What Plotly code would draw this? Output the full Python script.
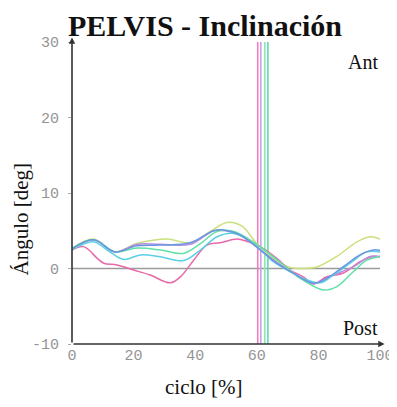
import plotly.graph_objects as go

# cycle % positions and pelvis tilt curves (deg)
x_yellow = [0, 7, 14, 21.1, 30.8, 38.4, 44.9, 50.3, 55.2, 60, 65.4, 70.8, 75.1, 79.5, 86, 92.4, 96.8, 100]
y_yellow = [2.7, 3.9, 2.2, 3.3, 3.9, 3.4, 4.9, 6.1, 5.6, 3.3, 1.35, 0.15, 0.0, 0.2, 1.6, 3.5, 4.2, 3.9]

x_pink = [0, 3.8, 8.2, 10.3, 14.6, 20, 25.4, 31.9, 35.2, 39.5, 43.8, 48.1, 53.5, 56.8, 61.1, 66.5, 70.8, 75.1, 78.4, 82.7, 88.1, 93.5, 97.8, 100]
y_pink = [2.45, 2.9, 1.35, 0.7, 0.46, -0.2, -0.86, -1.9, -1.1, 1.1, 3.1, 3.4, 3.9, 3.6, 2.9, 1.35, -0.2, -1.1, -2.05, -1.1, -0.6, 0.9, 1.6, 1.6]

x_cyan = [0, 7, 11.4, 16.8, 22.2, 28.7, 36.2, 41.7, 47.1, 52.5, 56.8, 61.1, 65.4, 70.8, 76.2, 80.6, 84.9, 90.3, 95.7, 100]
y_cyan = [2.5, 3.55, 2.45, 1.2, 1.8, 1.55, 1.05, 2.45, 4.2, 4.65, 3.9, 2.55, 0.9, -0.4, -1.5, -1.9, -0.85, 0.7, 2.2, 2.2]

x_blue = [0, 7, 14, 21, 28.7, 38.4, 46, 49.2, 54.6, 61.1, 66.5, 71.9, 78.4, 82.7, 88.1, 93.5, 97.8, 100]
y_blue = [2.6, 3.8, 2.2, 3.0, 3.1, 3.4, 5.0, 5.1, 4.45, 2.45, 0.7, -0.65, -1.95, -1.3, 0.25, 1.8, 2.45, 2.4]

x_green = [0, 7, 14, 21.1, 28.7, 36.2, 41.7, 47.1, 52.5, 57.9, 63.3, 68.7, 74.1, 81.6, 86, 91.4, 95.7, 100]
y_green = [2.6, 3.8, 2.2, 2.7, 2.45, 2.0, 3.3, 4.9, 4.9, 3.75, 2.2, 0.46, -1.3, -2.85, -2.4, -0.4, 1.1, 1.6]

x_purple = [0, 7, 14, 21.1, 28.7, 38.4, 46, 50, 54.6, 61.1, 66.5, 71.9, 78.4, 84.9, 91.4, 96.8, 100]
y_purple = [2.6, 3.8, 2.2, 3.2, 3.2, 3.2, 5.0, 5.0, 4.4, 2.5, 0.8, -0.6, -1.95, -0.85, 0.25, 1.6, 1.5]

# toe-off markers (% cycle)
toe_off = [60.3, 61.3, 62.6, 63.6]

x_ticks = [0, 20, 40, 60, 80, 100]
y_ticks = [-10, 0, 10, 20, 30]

curves = [
    (x_yellow, y_yellow, "#c9e07c"),
    (x_pink, y_pink, "#e66aa8"),
    (x_purple, y_purple, "#b98ee0"),
    (x_cyan, y_cyan, "#5acfe6"),
    (x_green, y_green, "#62e0a6"),
    (x_blue, y_blue, "#6a96e0"),
]
toe_colors = ["#f07cc0", "#c9a2ea", "#8ee6b4", "#5fd8b2"]

fig = go.Figure()

# zero reference line
fig.add_trace(go.Scatter(x=[0, 100], y=[0, 0], mode="lines",
                         line=dict(color="#9a9a9a", width=1.5), showlegend=False, hoverinfo="skip"))

for xv, c in zip(toe_off, toe_colors):
    fig.add_trace(go.Scatter(x=[xv, xv], y=[-10, 30.2], mode="lines",
                             line=dict(color=c, width=1.6), showlegend=False, hoverinfo="skip"))

for xs, ys, c in curves:
    fig.add_trace(go.Scatter(x=xs, y=ys, mode="lines", line=dict(color=c, width=1.5, shape="spline", smoothing=1.0),
                             showlegend=False, hoverinfo="skip"))

tickfont = dict(family="Liberation Mono", size=15, color="#949494")
fig.update_xaxes(range=[0, 100], tickvals=x_ticks, ticktext=[str(t) for t in x_ticks], automargin=False,
                 showgrid=False, zeroline=False, showline=False, ticks="", tickfont=tickfont)
fig.update_yaxes(range=[-10, 30], tickvals=y_ticks, ticktext=["-10", "0", "10", "20", "30"], automargin=False,
                 showgrid=False, zeroline=False, showline=False, ticks="outside", ticklen=3, tickcolor="#aaa",
                 tickfont=tickfont, ticklabelstandoff=6)

# axes drawn as arrows
fig.add_annotation(x=101.5, y=-10, ax=0, ay=-10, xref="x", yref="y", axref="x", ayref="y",
                   showarrow=True, arrowhead=2, arrowsize=0.8, arrowwidth=1.6, arrowcolor="#333", text="")
fig.add_annotation(x=0, y=30.6, ax=0, ay=-10, xref="x", yref="y", axref="x", ayref="y",
                   showarrow=True, arrowhead=2, arrowsize=0.8, arrowwidth=1.6, arrowcolor="#333", text="")

serif = "Liberation Serif"
fig.add_annotation(x=100, y=27.3, xref="x", yref="y", text="Ant", showarrow=False, xanchor="right",
                   font=dict(family=serif, size=20, color="#111"))
fig.add_annotation(x=100, y=-7.9, xref="x", yref="y", text="Post", showarrow=False, xanchor="right",
                   font=dict(family=serif, size=20, color="#111"))

# axis titles (paper coords relative to plot area)
fig.add_annotation(x=0.4295, y=-0.142, xref="paper", yref="paper", text="ciclo [%]", showarrow=False,
                   xanchor="center", yanchor="middle", font=dict(family=serif, size=21, color="#111"))
fig.add_annotation(x=-0.167, y=0.414, xref="paper", yref="paper", text="Ángulo [deg]", showarrow=False,
                   textangle=-90, xanchor="center", yanchor="middle", font=dict(family=serif, size=21, color="#111"))

fig.update_layout(
    width=389, height=399,
    margin=dict(l=63.5, r=17, t=34, b=63, autoexpand=False),
    paper_bgcolor="white", plot_bgcolor="white",
    title=dict(text="<b>PELVIS - Inclinación</b>", x=197 / 389, xanchor="center", y=0.955, yanchor="middle",
               font=dict(family=serif, size=30, color="#111")),
)

fig.write_html("out.html")
